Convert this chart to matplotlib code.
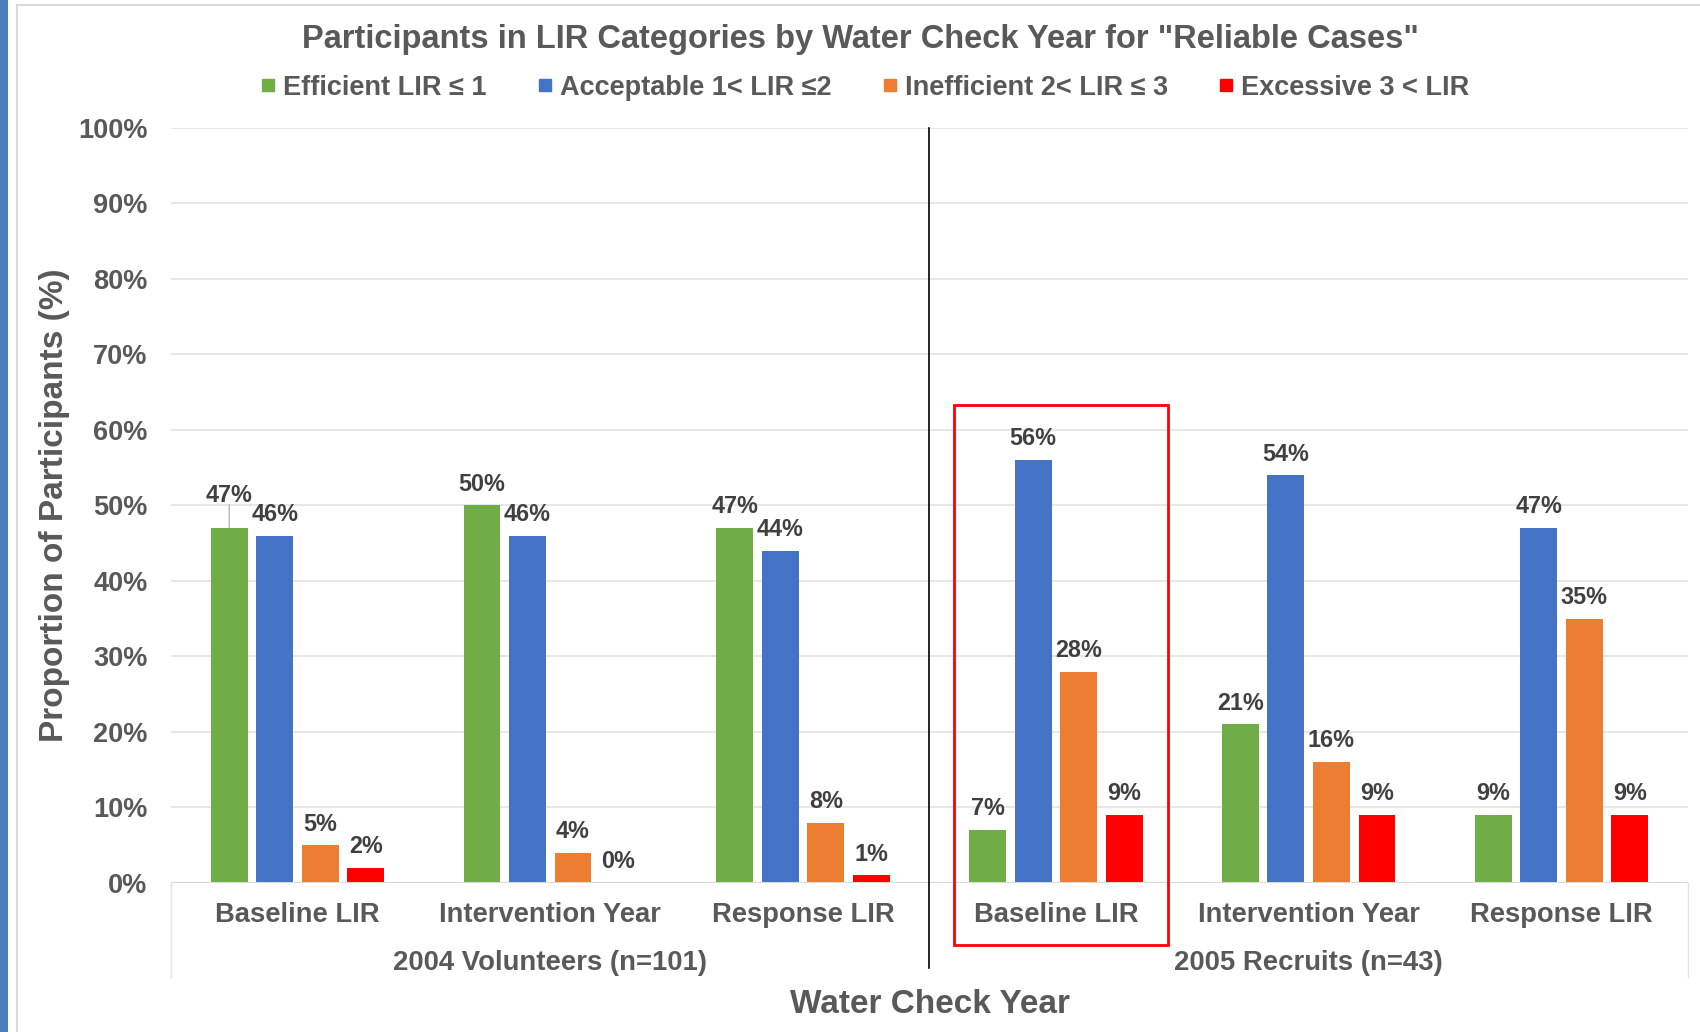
import numpy as np
from matplotlib import pyplot as plt
from matplotlib.lines import Line2D
from matplotlib.patches import Rectangle

plt.rcParams['font.family'] = ['Liberation Sans', 'DejaVu Sans']
plt.rcParams['font.weight'] = 'bold'

# data (percent)
categories = ['Baseline LIR', 'Intervention Year', 'Response LIR',
              'Baseline LIR', 'Intervention Year', 'Response LIR']
groups = ['2004 Volunteers (n=101)', '2005 Recruits (n=43)']
series = ['Efficient LIR \u2264 1', 'Acceptable 1< LIR \u22642',
          'Inefficient 2< LIR \u2264 3', 'Excessive 3 < LIR']
efficient = [47, 50, 47, 7, 21, 9]
acceptable = [46, 46, 44, 56, 54, 47]
inefficient = [5, 4, 8, 28, 16, 35]
excessive = [2, 0, 1, 9, 9, 9]
colors = ['#70AD47', '#4472C4', '#ED7D31', '#FF0000']
yticks = np.arange(0, 101, 10)

txt = '#595959'
fig = plt.figure(figsize=(17, 10.32), dpi=100)
ax = fig.add_axes([0.1006, 0.1444, 0.8923, 0.7316])

x = np.arange(len(categories))
w = 0.146
step = 0.18
values = [efficient, acceptable, inefficient, excessive]
for i, (vals, c) in enumerate(zip(values, colors)):
    xs = x + (i - 1.5) * step
    ax.bar(xs, vals, width=w, color=c, zorder=3)
    for j, (xx, v) in enumerate(zip(xs, vals)):
        extra = 0
        if i == 0 and j == 0:
            # the first label was pushed up in the original, with a leader line
            extra = 8
            ax.annotate('', xy=(xx, v), xytext=(0, 9 + extra), textcoords='offset points',
                        arrowprops=dict(arrowstyle='-', color='#A6A6A6', lw=0.8,
                                        shrinkA=0, shrinkB=0))
        ax.annotate(f'{v}%', (xx, v), xytext=(0, 7 + extra), textcoords='offset points',
                    ha='center', va='bottom', fontsize=16.8, color='#404040')

ax.set_xlim(-0.5, 5.5)
ax.set_ylim(0, 100)
ax.set_yticks(yticks)
ax.set_yticklabels([f'{t}%' for t in yticks], fontsize=19.5, color=txt)
ax.tick_params(axis='y', length=0, pad=17)
ax.set_xticks([])
for s in ax.spines.values():
    s.set_visible(False)
ax.grid(axis='y', color='#E3E3E3', lw=1.2, zorder=0)
ax.axhline(0, color='#D9D9D9', lw=1.5, zorder=4)

trans = ax.get_xaxis_transform()
for xx, lab in zip(x, categories):
    ax.text(xx, -0.0424, lab, transform=trans, ha='center', va='center',
            fontsize=19.7, color=txt)
for k, g in enumerate(groups):
    ax.text(1 + 3 * k, -0.106, g, transform=trans, ha='center', va='center',
            fontsize=19.8, color=txt)

# separator and category-axis edges
ax.plot([2.5, 2.5], [1, -0.112], transform=trans, color='black', lw=1.2, clip_on=False, zorder=5)
ax.plot([-0.5, -0.5], [0, -0.125], transform=trans, color='#E3E3E3', lw=1, clip_on=False)
ax.plot([5.5, 5.5], [0, -0.125], transform=trans, color='#E3E3E3', lw=1, clip_on=False)

# highlight box
ax.add_patch(Rectangle((2.597, -0.082), 3.444 - 2.597, 0.633 + 0.082, transform=trans,
                       fill=False, edgecolor='#FF0000', lw=2, clip_on=False, zorder=6))

fig.text(0.032, 0.5108, 'Proportion of Participants (%)', rotation=90, ha='center',
         va='center', fontsize=24, color=txt)
fig.text(0.547, 0.027, 'Water Check Year', ha='center', va='center', fontsize=24, color=txt)
fig.text(0.506, 0.962, 'Participants in LIR Categories by Water Check Year for "Reliable Cases"',
         ha='center', va='center', fontsize=23.5, color=txt)

handles = [Line2D([], [], marker='s', ls='', color=c, markersize=9) for c in colors]
fig.legend(handles, series, loc='center', bbox_to_anchor=(0.509, 0.915), ncol=4,
           frameon=False, fontsize=19.5, handlelength=0.5, handletextpad=0.3,
           columnspacing=1.9, labelcolor=txt)

# page decoration: blue strip and light frame
fig.add_artist(Rectangle((0, 0), 8 / 1700, 1, transform=fig.transFigure,
                         color='#4A7EBB', lw=0))
fig.add_artist(Line2D([17 / 1700, 17 / 1700], [0, 1 - 5 / 1032], transform=fig.transFigure,
                      color='#DADADA', lw=1.5))
fig.add_artist(Line2D([17 / 1700, 1], [1 - 5 / 1032, 1 - 5 / 1032], transform=fig.transFigure,
                      color='#DADADA', lw=1.5))

plt.savefig('out.png', dpi=100)
plt.close()
